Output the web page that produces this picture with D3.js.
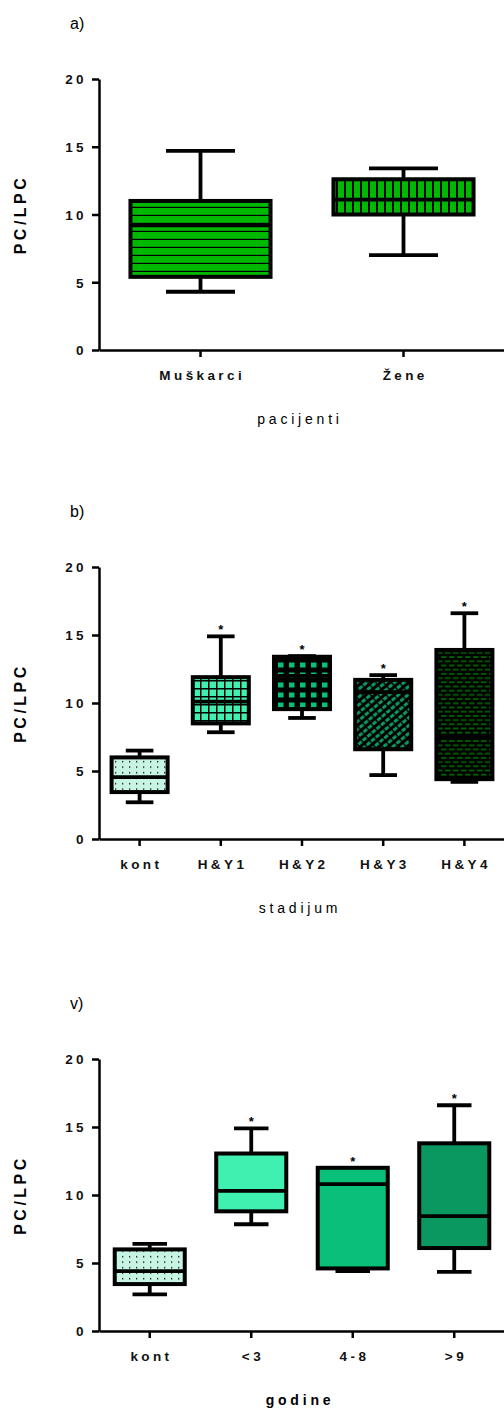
<!DOCTYPE html>
<html lang="en">
<head>
<meta charset="UTF-8">
<title>PC/LPC box plots</title>
<script src="https://d3js.org/d3.v7.min.js"></script>
<style>
    body { margin: 0; background: #fff; }
    svg { display: block; font-family: "Liberation Sans", Arial, sans-serif; }
    .tick text { font-size: 13.5px; font-weight: bold; letter-spacing: 3.4px; fill: #111; }
    .tick line, .domain { stroke: #000; stroke-width: 2.5px; }
</style>
</head>
<body>
<svg id="chart" width="504" height="1414"></svg>
<script>
    // five-number summaries: [min, q1, median, q3, max]
    var catsA = ["Muškarci", "Žene"];
    var boxesA = [[4.3, 5.4, 9.2, 11.0, 14.7], [7.0, 10.0, 11.1, 12.6, 13.4]];
    var starsA = [false, false];

    var catsB = ["kont", "H&Y1", "H&Y2", "H&Y3", "H&Y4"];
    var boxesB = [[2.7, 3.45, 4.55, 6.0, 6.5], [7.85, 8.5, 10.1, 11.9, 14.9],
                  [8.9, 9.55, 12.0, 13.4, 13.45], [4.7, 6.6, 10.8, 11.7, 12.05],
                  [4.2, 4.4, 7.5, 13.9, 16.6]];
    var starsB = [false, true, true, true, true];

    var catsC = ["kont", "<3", "4-8", ">9"];
    var boxesC = [[2.7, 3.45, 4.4, 6.0, 6.4], [7.85, 8.8, 10.3, 13.05, 14.9],
                  [4.4, 4.6, 10.8, 12.0, 12.0], [4.35, 6.1, 8.45, 13.8, 16.6]];
    var starsC = [false, true, true, true];

    var yTicks = [0, 5, 10, 15, 20];

    var svg = d3.select("#chart");
    var defs = svg.append("defs");

    // fill patterns
    function pattern(id, w, h, bg, draw) {
        var p = defs.append("pattern").attr("id", id)
            .attr("patternUnits", "userSpaceOnUse")
            .attr("width", w).attr("height", h);
        p.append("rect").attr("width", w).attr("height", h).attr("fill", bg);
        draw(p);
    }
    pattern("hlines", 8, 8, "#00b800", function (p) {
        p.append("rect").attr("y", 6.8).attr("width", 8).attr("height", 1.4).attr("fill", "#000");
    });
    pattern("vlines", 8, 8, "#00b800", function (p) {
        p.append("rect").attr("x", 0).attr("width", 2).attr("height", 8).attr("fill", "#000");
    });
    pattern("dots", 7, 5.5, "#c8f5e3", function (p) {
        p.append("rect").attr("x", 3).attr("y", 2).attr("width", 1.3).attr("height", 1.3).attr("fill", "#000");
    });
    pattern("grid", 8, 8, "#40f0b0", function (p) {
        p.append("rect").attr("width", 8).attr("height", 1.5).attr("fill", "#000");
        p.append("rect").attr("width", 1.5).attr("height", 8).attr("fill", "#000");
    });
    pattern("squares", 11, 10, "#000", function (p) {
        p.append("rect").attr("x", 3).attr("y", 2.5).attr("width", 5.5).attr("height", 5).attr("fill", "#08c078");
    });
    pattern("diag", 6, 6, "#000", function (p) {
        p.attr("patternTransform", "rotate(-40)");
        p.append("rect").attr("x", 0).attr("y", 1).attr("width", 4.5).attr("height", 3).attr("fill", "#0a9860");
    });
    pattern("bricks", 8, 8.4, "#000", function (p) {
        p.append("rect").attr("x", 1).attr("y", 1).attr("width", 5.5).attr("height", 1.8).attr("fill", "#006000");
        p.append("rect").attr("x", 5).attr("y", 5.2).attr("width", 5.5).attr("height", 1.8).attr("fill", "#006000");
        p.append("rect").attr("x", -3).attr("y", 5.2).attr("width", 5.5).attr("height", 1.8).attr("fill", "#006000");
    });

    function drawPanel(opt) {
        var y = d3.scaleLinear().domain([0, 20]).range([opt.bottom, opt.top]);
        var x = d3.scaleBand().domain(opt.cats).range([99, 505]);
        var step = x.step();
        var g = svg.append("g");

        // panel letter
        g.append("text").attr("x", 70).attr("y", opt.top - 50)
            .style("font-size", "16px").text(opt.letter);

        // y axis
        var ya = g.append("g").attr("transform", "translate(99,0)")
            .call(d3.axisLeft(y).tickValues(yTicks).tickSize(7).tickSizeOuter(0).tickPadding(5));
        ya.selectAll(".tick text").attr("dy", "0.36em");

        // x axis
        var xa = g.append("g").attr("transform", "translate(0," + opt.bottom + ")")
            .call(d3.axisBottom(x).tickSize(7).tickSizeOuter(0).tickPadding(13));
        xa.selectAll(".tick text").attr("dx", "1.7px");

        g.append("text")
            .attr("transform", "translate(26," + ((opt.top + opt.bottom) / 2) + ") rotate(-90)")
            .attr("text-anchor", "middle")
            .style("font-size", "16px").style("font-weight", "bold").style("letter-spacing", "3.5px")
            .text("PC/LPC");

        g.append("text").attr("x", 300).attr("y", opt.bottom + 74)
            .attr("text-anchor", "middle")
            .style("font-size", "14px").style("letter-spacing", "3.8px")
            .style("font-weight", opt.titleBold ? "bold" : "normal")
            .text(opt.title);

        var bw = step * 0.69, cw = step * 0.34;
        var items = g.selectAll(".box").data(opt.boxes).enter().append("g").attr("class", "box");

        items.each(function (d, i) {
            var s = d3.select(this);
            var cx = x(opt.cats[i]) + step / 2;
            // whiskers
            s.append("line").attr("x1", cx).attr("x2", cx).attr("y1", y(d[0])).attr("y2", y(d[4]))
                .attr("stroke", "#000").attr("stroke-width", 3.8);
            [d[0], d[4]].forEach(function (v) {
                s.append("line").attr("x1", cx - cw / 2).attr("x2", cx + cw / 2)
                    .attr("y1", y(v)).attr("y2", y(v))
                    .attr("stroke", "#000").attr("stroke-width", 3.8);
            });
            s.append("rect").attr("x", cx - bw / 2).attr("width", bw)
                .attr("y", y(d[3])).attr("height", y(d[1]) - y(d[3]))
                .attr("fill", opt.fills[i]).attr("stroke", "#000").attr("stroke-width", 4);
            s.append("line").attr("x1", cx - bw / 2).attr("x2", cx + bw / 2)
                .attr("y1", y(d[2])).attr("y2", y(d[2]))
                .attr("stroke", "#000").attr("stroke-width", 3.8);
            if (opt.stars[i]) {
                s.append("text").attr("x", cx).attr("y", y(d[4]) - 2)
                    .attr("text-anchor", "middle")
                    .style("font-size", "13px").style("font-weight", "bold")
                    .text("*");
            }
        });
    }

    drawPanel({ letter: "a)", top: 79, bottom: 350, cats: catsA, boxes: boxesA, stars: starsA,
        fills: ["url(#hlines)", "url(#vlines)"], title: "pacijenti", titleBold: false });
    drawPanel({ letter: "b)", top: 567, bottom: 839, cats: catsB, boxes: boxesB, stars: starsB,
        fills: ["url(#dots)", "url(#grid)", "url(#squares)", "url(#diag)", "url(#bricks)"],
        title: "stadijum", titleBold: false });
    drawPanel({ letter: "v)", top: 1059, bottom: 1331, cats: catsC, boxes: boxesC, stars: starsC,
        fills: ["url(#dots)", "#40f0b0", "#08c078", "#0a9860"], title: "godine", titleBold: true });
</script>
</body>
</html>
